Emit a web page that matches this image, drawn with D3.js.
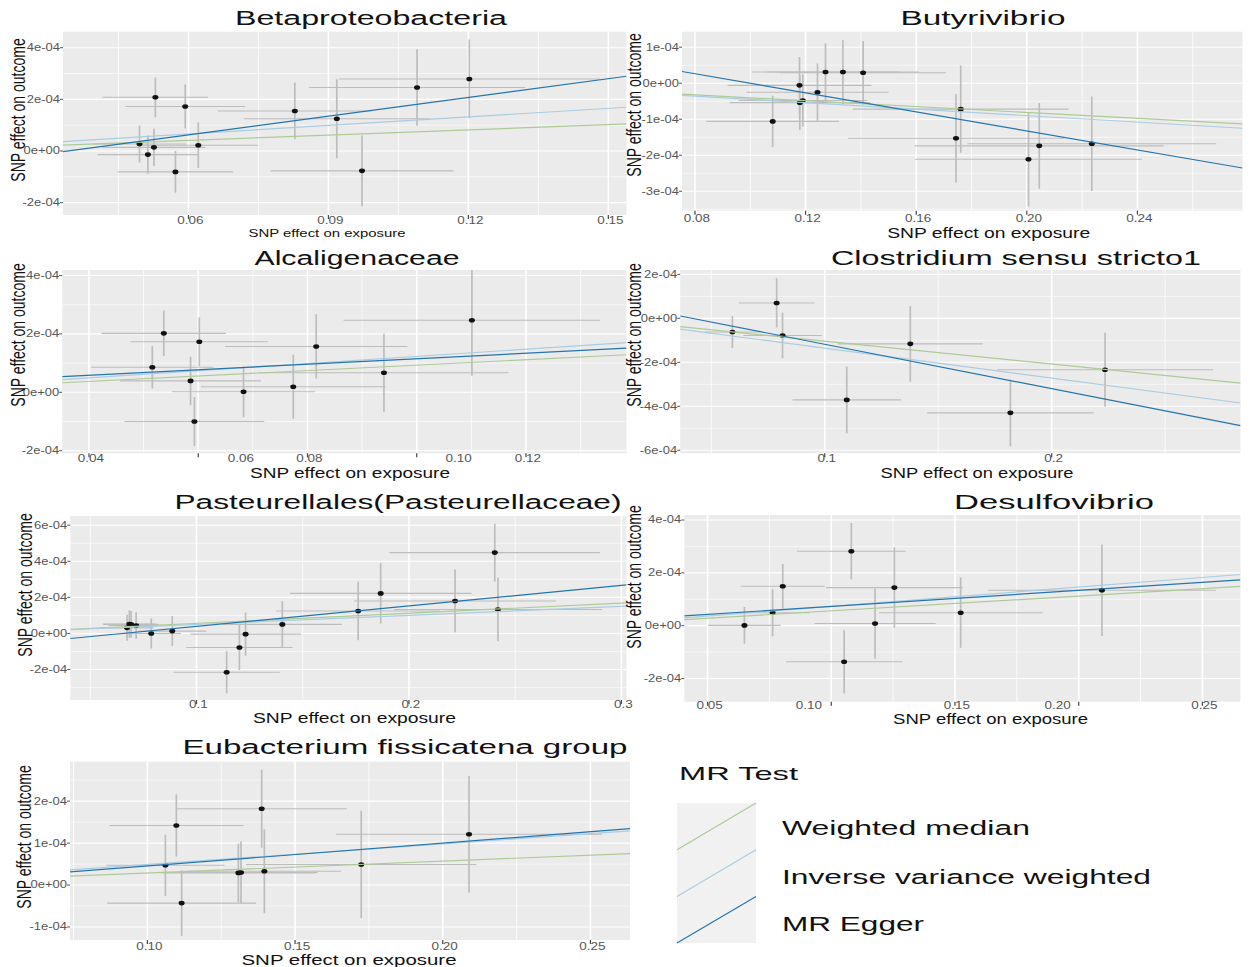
<!DOCTYPE html>
<html><head><meta charset="utf-8">
<script src="https://cdn.jsdelivr.net/npm/d3@7"></script>
<style>
body{margin:0;background:#fff}
svg{display:block}
text{font-family:"Liberation Sans", Arial, Helvetica, sans-serif}
</style>
</head><body>
<svg id="chart" width="1252" height="967"></svg>
<script>
// ---------------- DATA ----------------
const methods = ["Weighted median", "Inverse variance weighted", "MR Egger"];
const legendTitle = "MR Test";
const xAxisTitle = "SNP effect on exposure";
const yAxisTitle = "SNP effect on outcome";

// Betaproteobacteria
const betaTitle = "Betaproteobacteria";
const betaExp   = [0.0495, 0.0513, 0.0526, 0.0529, 0.0572, 0.0593, 0.0621, 0.0828, 0.0918, 0.0972, 0.1090, 0.1202];
const betaOut   = [0.27e-4, -0.14e-4, 0.14e-4, 2.08e-4, -0.81e-4, 1.72e-4, 0.22e-4, 1.55e-4, 1.25e-4, -0.77e-4, 2.46e-4, 2.79e-4];
const betaExpSE = [0.0100, 0.0108, 0.0110, 0.0113, 0.0124, 0.0128, 0.0128, 0.0165, 0.0199, 0.0196, 0.0232, 0.0280];
const betaOutSE = [0.72e-4, 0.74e-4, 0.72e-4, 0.77e-4, 0.81e-4, 0.85e-4, 0.88e-4, 1.10e-4, 1.53e-4, 1.37e-4, 1.48e-4, 1.53e-4];
const betaSlopes = [6.8e-4, 1.10e-3, 2.42e-3];
const betaIntercepts = [0, 0, -0.83e-4];
const betaXTicks = [0.06, 0.09, 0.12, 0.15];
const betaXLabels = ["0.06", "0.09", "0.12", "0.15"];
const betaYTicks = [-2e-4, 0, 2e-4, 4e-4];
const betaYLabels = ["-2e-04", "0e+00", "2e-04", "4e-04"];

// Butyrivibrio
const butyTitle = "Butyrivibrio";
const butyExp   = [0.1081, 0.1178, 0.1179, 0.1190, 0.1243, 0.1272, 0.1335, 0.1408, 0.1744, 0.1761, 0.2006, 0.2045, 0.2235];
const butyOut   = [-1.06e-4, -0.06e-4, -0.54e-4, -0.48e-4, -0.25e-4, 0.31e-4, 0.31e-4, 0.29e-4, -1.53e-4, -0.72e-4, -2.11e-4, -1.74e-4, -1.68e-4];
const butyExpSE = [0.0240, 0.0260, 0.0254, 0.0232, 0.0257, 0.0267, 0.0275, 0.0300, 0.0390, 0.0390, 0.0410, 0.0450, 0.0450];
const butyOutSE = [0.71e-4, 0.79e-4, 0.76e-4, 0.72e-4, 0.80e-4, 0.80e-4, 0.89e-4, 0.88e-4, 1.23e-4, 1.21e-4, 1.31e-4, 1.19e-4, 1.31e-4];
const butySlopes = [-4.06e-4, -4.5e-4, -1.322e-3];
const butyIntercepts = [0, 0, 1.32e-4];
const butyXTicks = [0.08, 0.12, 0.16, 0.20, 0.24];
const butyXLabels = ["0.08", "0.12", "0.16", "0.20", "0.24"];
const butyYTicks = [-3e-4, -2e-4, -1e-4, 0, 1e-4];
const butyYLabels = ["-3e-04", "-2e-04", "-1e-04", "0e+00", "1e-04"];

// Alcaligenaceae
const alcaTitle = "Alcaligenaceae";
const alcaExp   = [0.0516, 0.0537, 0.0586, 0.0593, 0.0602, 0.0683, 0.0774, 0.0816, 0.0940, 0.1101];
const alcaOut   = [0.86e-4, 2.02e-4, 0.39e-4, -1.00e-4, 1.73e-4, 0.02e-4, 0.19e-4, 1.57e-4, 0.67e-4, 2.47e-4];
const alcaExpSE = [0.0112, 0.0114, 0.0129, 0.0128, 0.0126, 0.0131, 0.0169, 0.0167, 0.0228, 0.0235];
const alcaOutSE = [0.73e-4, 0.78e-4, 0.83e-4, 0.84e-4, 0.83e-4, 0.87e-4, 1.10e-4, 1.10e-4, 1.34e-4, 1.90e-4];
const alcaSlopes = [9.3e-4, 1.23e-3, 9.4e-4];
const alcaIntercepts = [0, 0, 0.21e-4];
const alcaXTicks = [0.04, 0.06, 0.08, 0.10, 0.12];
const alcaXLabels = ["0.04", "0.06", "0.08", "0.10", "0.12"];
const alcaYTicks = [-2e-4, 0, 2e-4, 4e-4];
const alcaYLabels = ["-2e-04", "0e+00", "2e-04", "4e-04"];

// Clostridium sensu stricto1
const closTitle = "Clostridium sensu stricto1";
const closExp   = [0.0593, 0.0788, 0.0814, 0.1097, 0.1377, 0.1818, 0.2235];
const closOut   = [-0.62e-4, 0.70e-4, -0.78e-4, -3.71e-4, -1.16e-4, -4.30e-4, -2.34e-4];
const closExpSE = [0.0120, 0.0166, 0.0173, 0.0239, 0.0319, 0.0367, 0.0476];
const closOutSE = [0.73e-4, 1.12e-4, 1.04e-4, 1.52e-4, 1.72e-4, 1.52e-4, 1.68e-4];
const closSlopes = [-1.04e-3, -1.36e-3, -2.02e-3];
const closIntercepts = [0, 0, 0.84e-4];
const closXTicks = [0.1, 0.2];
const closXLabels = ["0.1", "0.2"];
const closYTicks = [-6e-4, -4e-4, -2e-4, 0, 2e-4];
const closYLabels = ["-6e-04", "-4e-04", "-2e-04", "0e+00", "2e-04"];

// Pasteurellales(Pasteurellaceae)
const pastTitle = "Pasteurellales(Pasteurellaceae)";
const pastExp   = [0.0673, 0.0684, 0.0692, 0.0716, 0.0787, 0.0886, 0.1142, 0.1202, 0.1231, 0.1404, 0.1761, 0.1867, 0.2217, 0.2404, 0.2419];
const pastOut   = [0.31e-4, 0.52e-4, 0.50e-4, 0.44e-4, 0.00e-4, 0.13e-4, -2.15e-4, -0.78e-4, -0.04e-4, 0.50e-4, 1.24e-4, 2.22e-4, 1.80e-4, 4.48e-4, 1.33e-4];
const pastExpSE = [0.0125, 0.0125, 0.0130, 0.0130, 0.0140, 0.0160, 0.0250, 0.0250, 0.0260, 0.0280, 0.0387, 0.0427, 0.0476, 0.0495, 0.0490];
const pastOutSE = [0.72e-4, 0.76e-4, 0.74e-4, 0.74e-4, 0.83e-4, 0.83e-4, 1.16e-4, 1.25e-4, 1.20e-4, 1.30e-4, 1.62e-4, 1.67e-4, 1.74e-4, 1.60e-4, 1.76e-4];
const pastSlopes = [5.6e-4, 5.0e-4, 1.134e-3];
const pastIntercepts = [0, 0, -0.74e-4];
const pastXTicks = [0.1, 0.2, 0.3];
const pastXLabels = ["0.1", "0.2", "0.3"];
const pastYTicks = [-2e-4, 0, 2e-4, 4e-4, 6e-4];
const pastYLabels = ["-2e-04", "0e+00", "2e-04", "4e-04", "6e-04"];

// Desulfovibrio
const desuTitle = "Desulfovibrio";
const desuExp   = [0.0649, 0.0763, 0.0804, 0.1052, 0.1081, 0.1177, 0.1255, 0.1523, 0.2094];
const desuOut   = [0.01e-4, 0.49e-4, 1.49e-4, -1.37e-4, 2.82e-4, 0.08e-4, 1.44e-4, 0.49e-4, 1.34e-4];
const desuExpSE = [0.0146, 0.0150, 0.0170, 0.0235, 0.0220, 0.0245, 0.0276, 0.0330, 0.0460];
const desuOutSE = [0.70e-4, 0.89e-4, 0.84e-4, 1.20e-4, 1.07e-4, 1.33e-4, 1.52e-4, 1.33e-4, 1.73e-4];
const desuSlopes = [5.6e-4, 7.3e-4, 6.05e-4];
const desuIntercepts = [0, 0, 0.124e-4];
const desuXTicks = [0.05, 0.10, 0.15, 0.20, 0.25];
const desuXLabels = ["0.05", "0.10", "0.15", "0.20", "0.25"];
const desuYTicks = [-2e-4, 0, 2e-4, 4e-4];
const desuYLabels = ["-2e-04", "0e+00", "2e-04", "4e-04"];

// Eubacterium fissicatena group
const eubaTitle = "Eubacterium fissicatena group";
const eubaExp   = [0.1061, 0.1098, 0.1116, 0.1308, 0.1317, 0.1387, 0.1396, 0.1724, 0.2089];
const eubaOut   = [0.47e-4, 1.42e-4, -0.43e-4, 0.29e-4, 0.30e-4, 1.82e-4, 0.33e-4, 0.49e-4, 1.21e-4];
const eubaExpSE = [0.0200, 0.0227, 0.0252, 0.0260, 0.0260, 0.0288, 0.0260, 0.0390, 0.0450];
const eubaOutSE = [0.73e-4, 0.74e-4, 0.78e-4, 0.70e-4, 0.74e-4, 0.93e-4, 1.00e-4, 1.28e-4, 1.39e-4];
const eubaSlopes = [2.85e-4, 4.9e-4, 5.44e-4];
const eubaIntercepts = [0, 0, -0.09e-4];
const eubaXTicks = [0.10, 0.15, 0.20, 0.25];
const eubaXLabels = ["0.10", "0.15", "0.20", "0.25"];
const eubaYTicks = [-1e-4, 0, 1e-4, 2e-4];
const eubaYLabels = ["-1e-04", "0e+00", "1e-04", "2e-04"];

// ---------------- STYLE / LAYOUT ----------------
const methodColors = ["#adcb96", "#a9cde3", "#2475ad"];
const panelBg = "#ebebeb";
const errColor = "#bdbdbd";

const panels = [
  {title: betaTitle, exp: betaExp, out: betaOut, ese: betaExpSE, ose: betaOutSE, slopes: betaSlopes, ints: betaIntercepts,
   xt: betaXTicks, xl: betaXLabels, yt: betaYTicks, yl: betaYLabels,
   box: [63, 31.7, 626.5, 215], xd: [0.0331, 0.1539], yd: [-2.48e-4, 4.62e-4],
   titlePos: [371, 18.3, 272], xTitle: [327, 232.5, 157, 11], yTitle: [18, 110], xTickY: 221, shifts: {}},
  {title: butyTitle, exp: butyExp, out: butyOut, ese: butyExpSE, ose: butyOutSE, slopes: butySlopes, ints: butyIntercepts,
   xt: butyXTicks, xl: butyXLabels, yt: butyYTicks, yl: butyYLabels,
   box: [682, 31.7, 1242.5, 210.7], xd: [0.0753, 0.278], yd: [-3.54e-4, 1.43e-4],
   titlePos: [983, 18.3, 165], xTitle: [988.7, 232.5, 203, 14], yTitle: [634, 105], xTickY: 219, shifts: {}},
  {title: alcaTitle, exp: alcaExp, out: alcaOut, ese: alcaExpSE, ose: alcaOutSE, slopes: alcaSlopes, ints: alcaIntercepts,
   xt: alcaXTicks, xl: alcaXLabels, yt: alcaYTicks, yl: alcaYLabels,
   box: [62.2, 270, 626.5, 453.3], xd: [0.0351, 0.1384], yd: [-2.09e-4, 4.19e-4],
   titlePos: [357, 258, 205], xTitle: [350, 472.5, 200, 14], yTitle: [18, 335], xTickY: 459, shifts: {1: 40.6, 3: 39.8}},
  {title: closTitle, exp: closExp, out: closOut, ese: closExpSE, ose: closOutSE, slopes: closSlopes, ints: closIntercepts,
   xt: closXTicks, xl: closXLabels, yt: closYTicks, yl: closYLabels,
   box: [680.2, 270, 1240.5, 453.3], xd: [0.0363, 0.2832], yd: [-6.14e-4, 2.2e-4],
   titlePos: [1016, 258, 370], xTitle: [977, 472.5, 193, 14], yTitle: [634, 335], xTickY: 459, shifts: {}},
  {title: pastTitle, exp: pastExp, out: pastOut, ese: pastExpSE, ose: pastOutSE, slopes: pastSlopes, ints: pastIntercepts,
   xt: pastXTicks, xl: pastXLabels, yt: pastYTicks, yl: pastYLabels,
   box: [70.3, 516, 626.5, 700], xd: [0.0406, 0.3024], yd: [-3.69e-4, 6.51e-4],
   titlePos: [398, 501.7, 447], xTitle: [354.5, 717.5, 203, 14], yTitle: [25, 585], xTickY: 705, shifts: {}},
  {title: desuTitle, exp: desuExp, out: desuOut, ese: desuExpSE, ose: desuOutSE, slopes: desuSlopes, ints: desuIntercepts,
   xt: desuXTicks, xl: desuXLabels, yt: desuYTicks, yl: desuYLabels,
   box: [684.3, 515, 1240.5, 701.7], xd: [0.0406, 0.2654], yd: [-2.88e-4, 4.19e-4],
   titlePos: [1054, 501.7, 200], xTitle: [990.6, 718.5, 195, 14], yTitle: [634, 577], xTickY: 706, shifts: {1: -24.5, 3: -23}},
  {title: eubaTitle, exp: eubaExp, out: eubaOut, ese: eubaExpSE, ose: eubaOutSE, slopes: eubaSlopes, ints: eubaIntercepts,
   xt: eubaXTicks, xl: eubaXLabels, yt: eubaYTicks, yl: eubaYLabels,
   box: [70, 761.7, 630, 940], xd: [0.0738, 0.2634], yd: [-1.31e-4, 2.94e-4],
   titlePos: [405, 746.7, 445], xTitle: [349, 959.5, 215, 14], yTitle: [24.5, 837], xTickY: 946.5, shifts: {}}
];

const svg = d3.select("#chart");
const defs = svg.append("defs");

function addText(g, str, x, y, o) {
  const t = g.append("text").text(str)
    .attr("font-size", o.size)
    .attr("fill", o.fill || "#000")
    .attr("text-anchor", o.anchor || "middle")
    .attr("dominant-baseline", "central");
  if (o.len) t.attr("textLength", o.len).attr("lengthAdjust", "spacingAndGlyphs");
  let tr = `translate(${x},${y}) scale(${o.sx || 1},1)`;
  if (o.rot) tr += ` rotate(${o.rot})`;
  t.attr("transform", tr);
  return t;
}

function minors(ticks, dom) {
  const step = ticks.length > 1 ? ticks[1] - ticks[0] : 0.1;
  const m = ticks.map(t => t - step / 2).concat([ticks[ticks.length - 1] + step / 2, ticks[0] - step * 1.5]);
  return m.filter(v => v > dom[0] && v < dom[1]);
}

panels.forEach((p, i) => {
  const [x0, y0, x1, y1] = p.box;
  const x = d3.scaleLinear().domain(p.xd).range([x0, x1]);
  const y = d3.scaleLinear().domain(p.yd).range([y1, y0]);
  const g = svg.append("g");

  defs.append("clipPath").attr("id", "clip" + i)
    .append("rect").attr("x", x0).attr("y", y0).attr("width", x1 - x0).attr("height", y1 - y0);

  g.append("rect").attr("x", x0).attr("y", y0).attr("width", x1 - x0).attr("height", y1 - y0).attr("fill", panelBg);

  // grid
  const grid = g.append("g").attr("stroke", "#fff");
  minors(p.xt, p.xd).forEach(v => grid.append("line").attr("x1", x(v)).attr("x2", x(v)).attr("y1", y0).attr("y2", y1).attr("stroke-width", 0.8));
  minors(p.yt, p.yd).forEach(v => grid.append("line").attr("y1", y(v)).attr("y2", y(v)).attr("x1", x0).attr("x2", x1).attr("stroke-width", 0.55));
  p.xt.forEach(v => grid.append("line").attr("x1", x(v)).attr("x2", x(v)).attr("y1", y0).attr("y2", y1).attr("stroke-width", 1.6));
  p.yt.forEach(v => grid.append("line").attr("y1", y(v)).attr("y2", y(v)).attr("x1", x0).attr("x2", x1).attr("stroke-width", 1.1));

  const plot = g.append("g").attr("clip-path", `url(#clip${i})`);
  const idx = d3.range(p.exp.length);
  // vertical error bars
  plot.selectAll(".ev").data(idx).join("line")
    .attr("x1", d => x(p.exp[d])).attr("x2", d => x(p.exp[d]))
    .attr("y1", d => y(p.out[d] - p.ose[d])).attr("y2", d => y(p.out[d] + p.ose[d]))
    .attr("stroke", errColor).attr("stroke-width", 1.7);
  // horizontal error bars
  plot.selectAll(".eh").data(idx).join("line")
    .attr("x1", d => x(p.exp[d] - p.ese[d])).attr("x2", d => x(p.exp[d] + p.ese[d]))
    .attr("y1", d => y(p.out[d])).attr("y2", d => y(p.out[d]))
    .attr("stroke", errColor).attr("stroke-width", 1.1);
  // points
  plot.selectAll(".pt").data(idx).join("ellipse")
    .attr("cx", d => x(p.exp[d])).attr("cy", d => y(p.out[d]))
    .attr("rx", 3).attr("ry", 2.3).attr("fill", "#111");
  // MR lines
  methods.forEach((m, k) => {
    plot.append("line")
      .attr("x1", x(p.xd[0])).attr("y1", y(p.ints[k] + p.slopes[k] * p.xd[0]))
      .attr("x2", x(p.xd[1])).attr("y2", y(p.ints[k] + p.slopes[k] * p.xd[1]))
      .attr("stroke", methodColors[k]).attr("stroke-width", 1.2);
  });

  // axes ticks
  p.xt.forEach((v, k) => {
    g.append("line").attr("x1", x(v)).attr("x2", x(v)).attr("y1", y1).attr("y2", y1 + 4)
      .attr("stroke", "#444").attr("stroke-width", 1.2);
    addText(g, p.xl[k], x(v) + (p.shifts[k] || 0) + 2, p.xTickY, {size: 10, sx: 1.35, fill: "#555"});
  });
  p.yt.forEach((v, k) => {
    g.append("line").attr("x1", x0 - 3).attr("x2", x0).attr("y1", y(v)).attr("y2", y(v))
      .attr("stroke", "#444").attr("stroke-width", 0.9);
    addText(g, p.yl[k], x0 - 3, y(v), {size: 10, sx: 1.3, fill: "#555", anchor: "end"});
  });

  // titles
  addText(g, p.title, p.titlePos[0], p.titlePos[1], {size: 20, len: p.titlePos[2], fill: "#111"});
  addText(g, xAxisTitle, p.xTitle[0], p.xTitle[1], {size: p.xTitle[3], len: p.xTitle[2], fill: "#111"});
  addText(g, yAxisTitle, p.yTitle[0], p.yTitle[1], {size: 14, sx: 1.45, rot: -90, fill: "#111"});
});

// ---------------- LEGEND ----------------
const lg = svg.append("g");
addText(lg, legendTitle, 679, 773, {size: 19, len: 119, anchor: "start", fill: "#111"});
const keyX0 = 677, keyX1 = 756, keyY0 = 803, keyH = 46.7;
lg.append("rect").attr("x", keyX0).attr("y", keyY0).attr("width", keyX1 - keyX0).attr("height", keyH * 3).attr("fill", "#f1f1f1");
const legendLabelY = [827, 876, 923];
const legendLabelW = [248, 369, 142];
methods.forEach((m, k) => {
  const top = keyY0 + k * keyH, bot = top + keyH;
  lg.append("line").attr("x1", keyX0).attr("y1", bot).attr("x2", keyX1).attr("y2", top)
    .attr("stroke", methodColors[k]).attr("stroke-width", 1.2);
  addText(lg, m, 782, legendLabelY[k], {size: 20.5, len: legendLabelW[k], anchor: "start", fill: "#111"});
});
</script>
</body></html>
